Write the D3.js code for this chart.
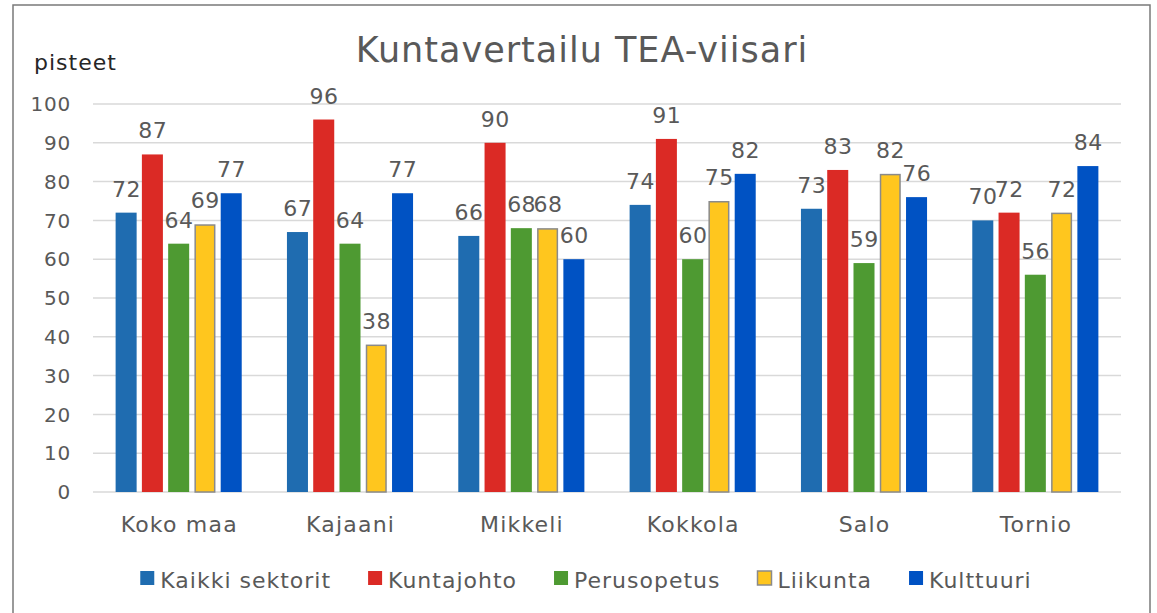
<!DOCTYPE html>
<html>
<head>
<meta charset="utf-8">
<script src="https://cdn.jsdelivr.net/npm/d3@7"></script>
<style>
  body { margin: 0; background: #fff; }
  text { font-family: "DejaVu Sans", sans-serif; fill: #595959; }
</style>
</head>
<body>
<svg id="chart" width="1157" height="613"></svg>
<script>
const categories = ["Koko maa", "Kajaani", "Mikkeli", "Kokkola", "Salo", "Tornio"];
const seriesNames = ["Kaikki sektorit", "Kuntajohto", "Perusopetus", "Liikunta", "Kulttuuri"];
const kaikki = [72, 67, 66, 74, 73, 70];
const kuntajohto = [87, 96, 90, 91, 83, 72];
const perusopetus = [64, 64, 68, 60, 59, 56];
const liikunta = [69, 38, 68, 75, 82, 72];
const kulttuuri = [77, 77, 60, 82, 76, 84];
const yTicks = [0, 10, 20, 30, 40, 50, 60, 70, 80, 90, 100];

const seriesValues = [kaikki, kuntajohto, perusopetus, liikunta, kulttuuri];
const colors = ["#1f6cb0", "#db2a25", "#4e9a32", "#ffc61e", "#0052c3"];
const strokes = [null, null, null, "#8a8a8a", null];

const svg = d3.select("#chart");
const margin = { left: 93, right: 1121, top: 104, bottom: 492 };

// frame
svg.append("rect")
  .attr("x", 13).attr("y", 5)
  .attr("width", 1137).attr("height", 620)
  .attr("fill", "none")
  .attr("stroke", "#7a7a7a")
  .attr("stroke-width", 1.5);

const x0 = d3.scaleBand()
  .domain(categories)
  .range([margin.left, margin.right])
  .paddingInner(0.264)
  .paddingOuter(0.132);

const x1 = d3.scaleBand()
  .domain(seriesNames)
  .range([0, x0.bandwidth()])
  .paddingInner(0.2);

const y = d3.scaleLinear().domain([0, 100]).range([margin.bottom, margin.top]);

// grid
svg.append("g")
  .selectAll("line")
  .data(yTicks)
  .join("line")
  .attr("x1", margin.left).attr("x2", margin.right)
  .attr("y1", d => y(d)).attr("y2", d => y(d))
  .attr("stroke", "#d9d9d9")
  .attr("stroke-width", 1.5);

// y tick labels
svg.append("g")
  .selectAll("text")
  .data(yTicks)
  .join("text")
  .attr("x", 71)
  .attr("y", d => y(d))
  .attr("dy", "0.36em")
  .attr("text-anchor", "end")
  .style("font-size", "20px")
  .style("letter-spacing", "0.8px")
  .text(d => d);

// bars
const rows = [];
categories.forEach((c, i) => {
  seriesNames.forEach((s, j) => {
    rows.push({ cat: c, series: s, idx: j, value: seriesValues[j][i] });
  });
});

const g = svg.append("g");
g.selectAll("rect")
  .data(rows)
  .join("rect")
  .attr("x", d => x0(d.cat) + x1(d.series) + (strokes[d.idx] ? 0.75 : 0))
  .attr("y", d => y(d.value) + (strokes[d.idx] ? 0.75 : 0))
  .attr("width", d => x1.bandwidth() - (strokes[d.idx] ? 1.5 : 0))
  .attr("height", d => y(0) - y(d.value) - (strokes[d.idx] ? 0.75 : 0))
  .attr("fill", d => colors[d.idx])
  .attr("stroke", d => strokes[d.idx] || "none")
  .attr("stroke-width", 1.5);

// value labels
g.selectAll("text")
  .data(rows)
  .join("text")
  .attr("x", d => x0(d.cat) + x1(d.series) + x1.bandwidth() / 2 + 0.3)
  .attr("y", d => y(d.value) - 16)
  .attr("text-anchor", "middle")
  .style("font-size", "22px")
  .style("letter-spacing", "0.5px")
  .text(d => d.value);

// category labels
svg.append("g")
  .selectAll("text")
  .data(categories)
  .join("text")
  .attr("x", d => x0(d) + x0.bandwidth() / 2 + 0.6)
  .attr("y", 532)
  .attr("text-anchor", "middle")
  .style("font-size", "22px")
  .style("letter-spacing", "1.2px")
  .text(d => d);

// title
svg.append("text")
  .attr("x", 582)
  .attr("y", 62)
  .attr("text-anchor", "middle")
  .style("font-size", "35px")
  .style("letter-spacing", "1px")
  .text("Kuntavertailu TEA-viisari");

svg.append("text")
  .attr("x", 34)
  .attr("y", 70)
  .style("font-size", "22px")
  .style("letter-spacing", "1px")
  .style("fill", "#262626")
  .text("pisteet");

// legend
const legend = svg.append("g");
const items = legend.selectAll("g")
  .data(seriesNames)
  .join("g");
items.append("rect")
  .attr("width", 14).attr("height", 14)
  .attr("y", -14)
  .attr("fill", (d, i) => colors[i])
  .attr("stroke", (d, i) => strokes[i] || "none")
  .attr("stroke-width", 1.5);
items.append("text")
  .attr("x", 20)
  .attr("y", 0)
  .attr("dy", "0.12em")
  .style("font-size", "22px")
  .style("letter-spacing", "1px")
  .text(d => d);

const gap = 37;
let widths = [];
items.each(function () {
  widths.push(20 + d3.select(this).select("text").node().getComputedTextLength());
});
const total = d3.sum(widths) + gap * (widths.length - 1);
let pos = 586 - total / 2;
items.attr("transform", (d, i) => {
  const t = `translate(${pos},585)`;
  pos += widths[i] + gap;
  return t;
});
</script>
</body>
</html>
